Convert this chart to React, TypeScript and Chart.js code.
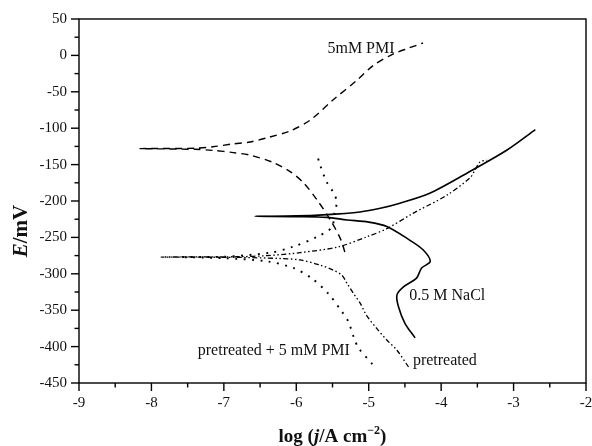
import React, { useEffect, useRef } from 'react';
import { Chart, registerables } from 'chart.js';

Chart.register(...registerables);

// ---- axes / tick values ----
const xTickValues = [-9, -8, -7, -6, -5, -4, -3, -2];
const yTickValues = [50, 0, -50, -100, -150, -200, -250, -300, -350, -400, -450];

// ---- series: 0.5 M NaCl (solid) ----
const naclLogJ = [-4.36, -4.50, -4.59, -4.61, -4.52, -4.34, -4.27, -4.15, -4.25, -4.43, -4.75, -5.0, -5.30, -5.58, -6.0, -6.57, -6.0, -5.63, -5.12, -4.84, -4.57, -4.15, -3.56, -3.09, -2.70];
const naclE = [-388, -368, -345, -329, -318, -306, -292, -283, -267, -254, -235, -229, -226, -222.5, -221.5, -221, -220.5, -219, -215, -210, -203, -189, -157, -130, -102];

// ---- series: 5mM PMI (dashed) ----
const pmiLogJ = [-5.33, -5.39, -5.53, -5.71, -5.90, -6.08, -6.32, -6.64, -6.87, -7.15, -7.4, -8.16, -7.4, -7.15, -6.87, -6.64, -6.4, -6.09, -5.81, -5.49, -5.16, -4.94, -4.66, -4.45, -4.25];
const pmiE = [-270, -252, -226, -199, -175, -160, -147, -137, -133.5, -130.5, -129, -128, -127.5, -125.5, -121.5, -119, -113, -104, -89, -61, -34, -14, 2, 10, 17];

// ---- series: pretreated (dash-dot-dot) ----
const pretLogJ = [-4.45, -4.61, -4.75, -4.89, -5.03, -5.12, -5.21, -5.30, -5.37, -5.49, -5.67, -5.95, -6.22, -6.8, -7.87, -6.8, -6.4, -5.95, -5.42, -5.02, -4.75, -4.39, -3.92, -3.60, -3.53, -3.46, -3.37];
const pretE = [-428, -405, -391, -375, -357, -340, -327, -313, -302, -295, -288, -281, -279, -277.5, -277, -276.5, -275, -271, -263, -249, -238, -217, -192, -168, -157, -146, -144];

// ---- series: pretreated + 5 mM PMI (dotted) ----
const pretPmiLogJ = [-4.95, -5.14, -5.20, -5.28, -5.37, -5.56, -5.79, -6.04, -6.4, -7.0, -7.6, -7.0, -6.36, -6.05, -5.71, -5.51, -5.47, -5.44, -5.49, -5.58, -5.67, -5.72];
const pretPmiE = [-424, -402, -389, -366, -352, -327, -306, -292, -283, -278.5, -277, -276.5, -271, -263, -249, -236, -215, -201, -188, -174, -151, -134];

// ---- curve labels (anchored in data coordinates) ----
const labelTexts = ['5mM PMI', '0.5 M NaCl', 'pretreated', 'pretreated + 5 mM PMI'];
const labelLogJ = [-5.57, -4.44, -4.39, -7.36];
const labelE = [3.5, -336, -425, -412];

const zip = (xs: number[], ys: number[]) => xs.map((x, i) => ({ x, y: ys[i] }));

const SERIF = '"Liberation Serif", "Times New Roman", serif';

const decorPlugin = {
  id: 'decor',
  afterDraw(chart: any) {
    const { ctx, chartArea: a, scales } = chart;
    const xs = scales.x;
    const ys = scales.y;
    ctx.save();
    ctx.strokeStyle = '#000';
    ctx.lineWidth = 1.4;
    ctx.strokeRect(a.left, a.top, a.right - a.left, a.bottom - a.top);
    // x ticks
    for (let v = xs.min; v <= xs.max + 1e-9; v += 0.5) {
      const px = xs.getPixelForValue(v);
      const major = Math.abs(v - Math.round(v)) < 1e-9;
      const len = major ? 8 : 4.5;
      ctx.beginPath();
      ctx.moveTo(px, a.bottom);
      ctx.lineTo(px, a.bottom + len);
      ctx.stroke();
    }
    // y ticks
    for (let v = ys.min; v <= ys.max + 1e-9; v += 25) {
      const py = ys.getPixelForValue(v);
      const major = Math.abs(v % 50) < 1e-9;
      const len = major ? 8 : 4.5;
      ctx.beginPath();
      ctx.moveTo(a.left, py);
      ctx.lineTo(a.left - len, py);
      ctx.stroke();
    }
    // curve labels
    ctx.fillStyle = '#111';
    ctx.font = `16px ${SERIF}`;
    ctx.textAlign = 'left';
    ctx.textBaseline = 'alphabetic';
    labelTexts.forEach((t, i) => {
      ctx.fillText(t, xs.getPixelForValue(labelLogJ[i]), ys.getPixelForValue(labelE[i]));
    });

    // x axis title: log (j/A cm^-2)
    const cx = (a.left + a.right) / 2;
    const base = 442;
    const parts: [string, string, number][] = [
      ['log (', `bold 19px ${SERIF}`, 0],
      ['j', `italic bold 19px ${SERIF}`, 0],
      ['/A cm', `bold 19px ${SERIF}`, 0],
      ['\u22122', `bold 12px ${SERIF}`, -8],
      [')', `bold 19px ${SERIF}`, 0],
    ];
    let total = 0;
    parts.forEach(([t, f]) => { ctx.font = f; total += ctx.measureText(t).width; });
    let xx = cx - total / 2;
    parts.forEach(([t, f, dy]) => {
      ctx.font = f;
      ctx.fillText(t, xx, base + dy);
      xx += ctx.measureText(t).width;
    });

    // y axis title: E/mV
    ctx.save();
    ctx.translate(27, 231);
    ctx.rotate(-Math.PI / 2);
    const yparts: [string, string][] = [
      ['E', `italic bold 21px ${SERIF}`],
      ['/mV', `bold 21px ${SERIF}`],
    ];
    let ytot = 0;
    yparts.forEach(([t, f]) => { ctx.font = f; ytot += ctx.measureText(t).width; });
    let yx = -ytot / 2;
    yparts.forEach(([t, f]) => {
      ctx.font = f;
      ctx.fillText(t, yx, 0);
      yx += ctx.measureText(t).width;
    });
    ctx.restore();
    ctx.restore();
  },
};

export default function App() {
  const ref = useRef<HTMLCanvasElement | null>(null);
  useEffect(() => {
    if (!ref.current) return;
    const common = { showLine: true, pointRadius: 0, borderColor: '#000', fill: false, tension: 0.3 };
    const chart = new Chart(ref.current, {
      type: 'scatter',
      data: {
        datasets: [
          { ...common, label: '0.5 M NaCl', data: zip(naclLogJ, naclE), borderWidth: 1.6 },
          { ...common, label: '5mM PMI', data: zip(pmiLogJ, pmiE), borderWidth: 1.4, borderDash: [7, 5] },
          { ...common, label: 'pretreated', data: zip(pretLogJ, pretE), borderWidth: 1.3, borderDash: [5, 2.5, 1.5, 2.5, 1.5, 2.5] },
          { ...common, label: 'pretreated + 5 mM PMI', data: zip(pretPmiLogJ, pretPmiE), borderWidth: 1.9, borderDash: [1.9, 6.5] },
        ],
      },
      options: {
        animation: false,
        responsive: false,
        devicePixelRatio: 1,
        layout: { padding: { left: 0, right: 6, top: 19, bottom: 0 } },
        plugins: { legend: { display: false }, tooltip: { enabled: false }, title: { display: false } },
        scales: {
          x: {
            type: 'linear',
            min: -9,
            max: -2,
            border: { display: false },
            grid: { display: true, drawOnChartArea: false, drawTicks: true, tickLength: 8, color: 'rgba(0,0,0,0)' },
            ticks: {
              stepSize: 1,
              autoSkip: false,
              maxRotation: 0,
              padding: 3,
              color: '#111',
              font: { family: SERIF, size: 15 },
              callback: (v: any) => (xTickValues.includes(Number(v)) ? String(v) : ''),
            },
            afterFit: (s: any) => { s.height = 63; s.paddingLeft = 0; s.paddingRight = 0; },
          },
          y: {
            type: 'linear',
            min: -450,
            max: 50,
            border: { display: false },
            grid: { display: true, drawOnChartArea: false, drawTicks: true, tickLength: 8, color: 'rgba(0,0,0,0)' },
            ticks: {
              stepSize: 50,
              autoSkip: false,
              padding: 4,
              color: '#111',
              font: { family: SERIF, size: 15 },
              callback: (v: any) => (yTickValues.includes(Number(v)) ? String(v) : ''),
            },
            afterFit: (s: any) => { s.width = 79; s.paddingTop = 0; s.paddingBottom = 0; },
          },
        },
      },
      plugins: [decorPlugin],
    });
    return () => chart.destroy();
  }, []);
  return (
    <div style={{ position: 'absolute', left: 0, top: 0, width: 592, height: 446, background: '#fff' }}>
      <canvas ref={ref} width={592} height={446} style={{ display: 'block' }} />
    </div>
  );
}
